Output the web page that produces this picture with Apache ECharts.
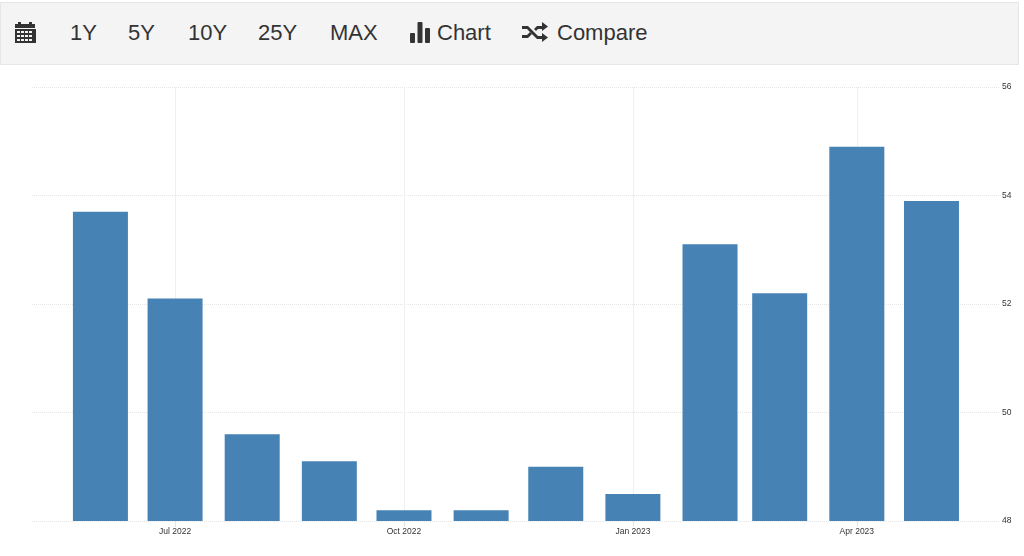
<!DOCTYPE html>
<html>
<head>
<meta charset="utf-8">
<title>Chart</title>
<script src="https://cdn.jsdelivr.net/npm/echarts@6/dist/echarts.min.js"></script>
<style>
html, body { margin: 0; padding: 0; background: #fff; }
#page { position: relative; width: 1024px; height: 556px; overflow: hidden; font-family: "Liberation Sans", Arial, sans-serif; }
#toolbar { position: absolute; left: 0; top: 2px; width: 1017px; height: 61px; background: #f4f4f4; border: 1px solid #e6e6e6; color: #333; font-size: 22px; }
#toolbar span { position: absolute; top: 17px; line-height: 26px; white-space: nowrap; }
#toolbar svg { position: absolute; fill: #333; }
#chart { position: absolute; left: 0; top: 0; width: 1024px; height: 556px; }
</style>
</head>
<body>
<div id="page">
  <div id="chart"></div>
  <div id="toolbar">
    <svg style="left:13px;top:17px" width="22" height="24" viewBox="0 0 22 24">
      <path d="M1 4h3V2h3v2h8V2h3v2h3v4H1z"/>
      <path fill-rule="evenodd" d="M1 9h21v14H1zM3 11v2h3v-2zM7 11v2h3v-2zM11 11v2h3v-2zM15 11v2h3v-2zM3 15v2h3v-2zM7 15v2h3v-2zM11 15v2h3v-2zM15 15v2h3v-2zM3 19v2h3v-2zM7 19v2h3v-2zM11 19v2h3v-2zM15 19v2h3v-2z"/>
    </svg>
    <span style="left:69px">1Y</span>
    <span style="left:127px">5Y</span>
    <span style="left:187px">10Y</span>
    <span style="left:257px">25Y</span>
    <span style="left:329px">MAX</span>
    <svg style="left:409px;top:19px" width="21" height="21" viewBox="0 0 21 21">
      <rect x="0" y="11" width="5" height="10" rx="1"/>
      <rect x="7.5" y="0" width="5" height="21" rx="1"/>
      <rect x="15" y="6" width="5" height="15" rx="1"/>
    </svg>
    <span style="left:436px">Chart</span>
    <svg style="left:521px;top:19px" width="27" height="20" viewBox="0 0 27 20">
      <path d="M0 4h6l10 10h4v-3l6 4.5-6 4.5v-3h-5L5 7H0z"/>
      <path d="M0 13h5l3-3 2 2-4 4H0zM15 4h5V0l6 4.5-6 4.5V7h-4l-2 2-2-2z"/>
    </svg>
    <span style="left:556px">Compare</span>
  </div>
</div>
<script>
const months = ['2022-06-01', '2022-07-01', '2022-08-01', '2022-09-01', '2022-10-01', '2022-11-01',
  '2022-12-01', '2023-01-01', '2023-02-01', '2023-03-01', '2023-04-01', '2023-05-01'];
const values = [53.7, 52.1, 49.6, 49.1, 48.2, 48.2, 49.0, 48.5, 53.1, 52.2, 54.9, 53.9];
const tickDates = ['2022-07-01', '2022-10-01', '2023-01-01', '2023-04-01'];
const tickLabels = ['Jul 2022', 'Oct 2022', 'Jan 2023', 'Apr 2023'];

const toTime = d => new Date(d + 'T00:00:00Z').getTime();
const tickTimes = tickDates.map(toTime);

const chart = echarts.init(document.getElementById('chart'), null, { renderer: 'canvas' });
chart.setOption({
  animation: false,
  textStyle: { fontFamily: '"Liberation Sans", Arial, sans-serif' },
  grid: { left: 32, right: 24, top: 87, bottom: 35 },
  xAxis: {
    // time axis throws with customValues, so keep timestamps on a value axis
    type: 'value',
    min: Date.UTC(2022, 4, 4, 12),
    max: Date.UTC(2023, 4, 28, 13),
    axisLine: { show: false },
    axisTick: { show: true, customValues: tickTimes, length: 6, lineStyle: { color: '#e4e4e4' } },
    splitLine: { show: true, lineStyle: { color: '#efefef', type: 'solid' } },
    axisLabel: {
      customValues: tickTimes,
      color: '#333',
      fontSize: 8.5,
      margin: 6,
      formatter: v => tickLabels[tickTimes.indexOf(v)] || ''
    }
  },
  yAxis: {
    type: 'value',
    position: 'right',
    min: 48,
    max: 56,
    interval: 2,
    axisLine: { show: false },
    axisTick: { show: false },
    splitLine: { show: true, lineStyle: { color: '#e6e6e6', type: 'dotted' } },
    axisLabel: { color: '#333', fontSize: 8.5, margin: 2 }
  },
  series: [{
    type: 'bar',
    barWidth: 55,
    itemStyle: { color: '#4682b4' },
    data: months.map((m, i) => [toTime(m), values[i]])
  }]
});
</script>
</body>
</html>
